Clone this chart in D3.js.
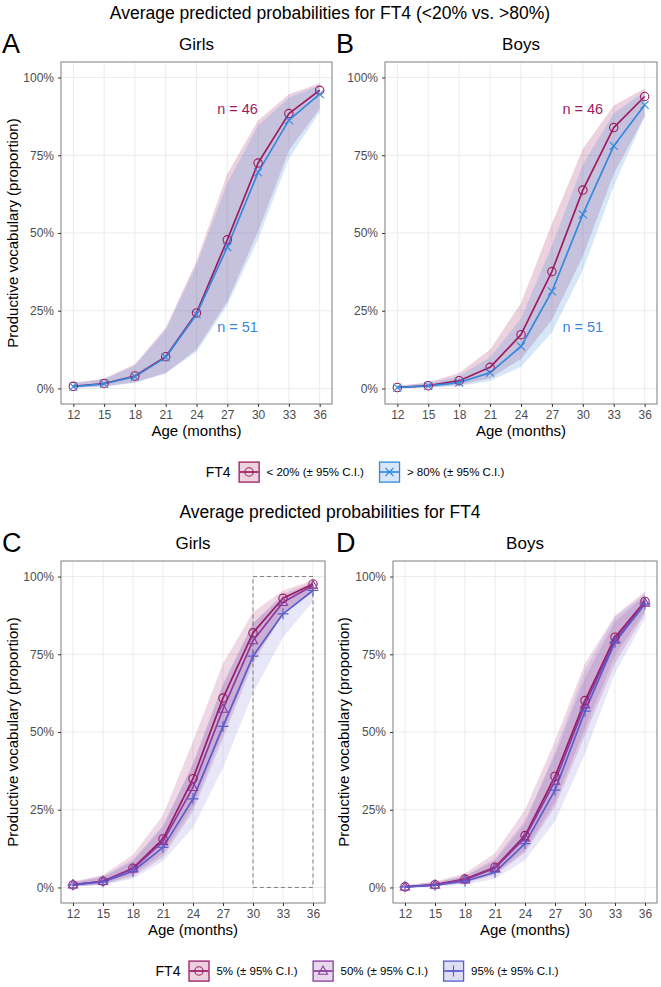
<!DOCTYPE html>
<html>
<head>
<meta charset="utf-8">
<script src="https://cdn.jsdelivr.net/npm/d3@7"></script>
<style>
  body { margin: 0; background: #fff; }
  svg { display: block; font-family: "Liberation Sans", Arial, Helvetica, sans-serif; }
</style>
</head>
<body>
<svg id="chart" width="661" height="987"></svg>
<script>
// ages on the x axis and y tick values
const ages = [12, 15, 18, 21, 24, 27, 30, 33, 36];
const yTicks = [0, 0.25, 0.5, 0.75, 1];

// A: girls, FT4 <20% vs >80%
const girlsLow   = [0.007, 0.016, 0.040, 0.102, 0.243, 0.478, 0.725, 0.884, 0.959];
const girlsLowLo = [0.002, 0.006, 0.020, 0.050, 0.125, 0.280, 0.505, 0.765, 0.900];
const girlsLowHi = [0.018, 0.032, 0.078, 0.195, 0.410, 0.690, 0.862, 0.946, 0.982];
const girlsHigh   = [0.006, 0.015, 0.038, 0.100, 0.238, 0.455, 0.695, 0.863, 0.947];
const girlsHighLo = [0.002, 0.006, 0.018, 0.048, 0.118, 0.268, 0.480, 0.740, 0.888];
const girlsHighHi = [0.016, 0.030, 0.074, 0.188, 0.398, 0.660, 0.845, 0.935, 0.976];

// B: boys, FT4 <20% vs >80%
const boysLow   = [0.003, 0.009, 0.025, 0.068, 0.173, 0.376, 0.638, 0.839, 0.939];
const boysLowLo = [0.001, 0.003, 0.011, 0.033, 0.095, 0.220, 0.425, 0.690, 0.875];
const boysLowHi = [0.009, 0.020, 0.050, 0.125, 0.275, 0.530, 0.770, 0.910, 0.965];
const boysHigh   = [0.003, 0.008, 0.019, 0.051, 0.135, 0.312, 0.560, 0.780, 0.912];
const boysHighLo = [0.001, 0.003, 0.008, 0.024, 0.070, 0.180, 0.380, 0.650, 0.875];
const boysHighHi = [0.008, 0.017, 0.040, 0.100, 0.225, 0.460, 0.720, 0.885, 0.955];

// C: girls, FT4 at 5% / 50% / 95%
const girlsP5   = [0.008, 0.020, 0.062, 0.156, 0.350, 0.609, 0.819, 0.930, 0.976];
const girlsP5Lo = [0.003, 0.009, 0.035, 0.098, 0.245, 0.480, 0.720, 0.880, 0.950];
const girlsP5Hi = [0.018, 0.040, 0.105, 0.232, 0.470, 0.720, 0.885, 0.955, 0.988];
const girlsP50   = [0.009, 0.020, 0.060, 0.148, 0.322, 0.574, 0.794, 0.917, 0.971];
const girlsP50Lo = [0.004, 0.012, 0.042, 0.110, 0.260, 0.500, 0.735, 0.885, 0.958];
const girlsP50Hi = [0.016, 0.033, 0.085, 0.195, 0.400, 0.655, 0.850, 0.945, 0.982];
const girlsP95   = [0.008, 0.018, 0.052, 0.129, 0.285, 0.518, 0.744, 0.880, 0.955];
const girlsP95Lo = [0.003, 0.008, 0.028, 0.085, 0.192, 0.385, 0.625, 0.805, 0.920];
const girlsP95Hi = [0.018, 0.036, 0.090, 0.200, 0.395, 0.650, 0.850, 0.935, 0.978];

// D: boys, FT4 at 5% / 50% / 95%
const boysP5   = [0.002, 0.009, 0.027, 0.065, 0.167, 0.357, 0.601, 0.805, 0.920];
const boysP5Lo = [0.001, 0.004, 0.014, 0.040, 0.112, 0.260, 0.490, 0.720, 0.880];
const boysP5Hi = [0.007, 0.019, 0.046, 0.110, 0.250, 0.472, 0.720, 0.875, 0.952];
const boysP50   = [0.002, 0.008, 0.025, 0.062, 0.160, 0.342, 0.588, 0.796, 0.915];
const boysP50Lo = [0.001, 0.004, 0.016, 0.043, 0.120, 0.275, 0.512, 0.745, 0.890];
const boysP50Hi = [0.006, 0.015, 0.038, 0.092, 0.215, 0.425, 0.675, 0.855, 0.940];
const boysP95   = [0.002, 0.007, 0.020, 0.049, 0.141, 0.313, 0.567, 0.789, 0.912];
const boysP95Lo = [0.001, 0.003, 0.009, 0.028, 0.088, 0.212, 0.430, 0.690, 0.865];
const boysP95Hi = [0.006, 0.016, 0.036, 0.086, 0.205, 0.440, 0.700, 0.870, 0.945];

const colLow = "#9e1b5f", colHigh = "#3489de";
const col5 = "#9c1a62", col50 = "#8a3b9d", col95 = "#5b5dcc";

const svg = d3.select("#chart");

function marker(g, shape, color) {
  if (shape === "circle") {
    g.append("circle").attr("r", 4.2).attr("fill", "none").attr("stroke", color).attr("stroke-width", 1.1);
  } else {
    let d;
    if (shape === "cross") d = "M-4,-4L4,4M-4,4L4,-4";
    if (shape === "plus") d = "M-5.5,0H5.5M0,-5.5V5.5";
    if (shape === "triangle") d = "M0,-5L4.6,3.2H-4.6Z";
    g.append("path").attr("d", d).attr("fill", "none").attr("stroke", color).attr("stroke-width", 1.1);
  }
}

function drawPanel(p) {
  const x = d3.scaleLinear().domain([10.8, 37.2]).range([p.x0, p.x1]);
  const y = d3.scaleLinear().domain([-0.05, 1.05]).range([p.y1, p.y0]);
  const g = svg.append("g");

  // grid
  g.selectAll(".gx").data(ages).enter().append("line")
    .attr("x1", d => x(d)).attr("x2", d => x(d))
    .attr("y1", p.y0).attr("y2", p.y1)
    .attr("stroke", "#ebebeb").attr("stroke-width", 1);
  g.selectAll(".gy").data(yTicks).enter().append("line")
    .attr("x1", p.x0).attr("x2", p.x1)
    .attr("y1", d => y(d)).attr("y2", d => y(d))
    .attr("stroke", "#ebebeb").attr("stroke-width", 1);

  const area = d3.area().x(d => x(d.age)).y0(d => y(d.lo)).y1(d => y(d.hi));
  const line = d3.line().x(d => x(d.age)).y(d => y(d.v));

  p.series.forEach(s => {
    const rows = ages.map((a, i) => ({age: a, lo: s.lo[i], hi: s.hi[i]}));
    g.append("path").attr("d", area(rows)).attr("fill", s.color).attr("fill-opacity", s.alpha || 0.2);
  });
  p.series.forEach(s => {
    const rows = ages.map((a, i) => ({age: a, v: s.est[i]}));
    g.append("path").attr("d", line(rows)).attr("fill", "none")
      .attr("stroke", s.color).attr("stroke-width", 1.7).attr("stroke-linejoin", "round");
  });
  p.series.forEach(s => {
    ages.forEach((a, i) => {
      const m = g.append("g").attr("transform", `translate(${x(a)},${y(s.est[i])})`);
      marker(m, s.shape, s.color);
    });
  });

  // dashed highlight box
  if (p.box) {
    g.append("rect")
      .attr("x", x(p.box[0])).attr("y", y(1))
      .attr("width", x(p.box[1]) - x(p.box[0])).attr("height", y(0) - y(1))
      .attr("fill", "none").attr("stroke", "#666").attr("stroke-width", 0.8)
      .attr("stroke-dasharray", "4,3");
  }

  (p.notes || []).forEach(n => {
    g.append("text").attr("x", x(n.age)).attr("y", y(n.v))
      .attr("text-anchor", "middle").attr("dominant-baseline", "central")
      .attr("fill", n.color).style("font-size", "14.5px").text(n.text);
  });

  // frame
  g.append("rect").attr("x", p.x0).attr("y", p.y0)
    .attr("width", p.x1 - p.x0).attr("height", p.y1 - p.y0)
    .attr("fill", "none").attr("stroke", "#7f7f7f").attr("stroke-width", 1);

  const xAxis = g.append("g").attr("transform", `translate(0,${p.y1})`)
    .call(d3.axisBottom(x).tickValues(ages).tickSize(3).tickPadding(3));
  const yAxis = g.append("g").attr("transform", `translate(${p.x0},0)`)
    .call(d3.axisLeft(y).tickValues(yTicks).tickSize(3).tickPadding(4).tickFormat(d => Math.round(d * 100) + "%"));
  [xAxis, yAxis].forEach(a => {
    a.select(".domain").remove();
    a.selectAll(".tick line").attr("stroke", "#333");
    a.selectAll("text").attr("fill", "#4d4d4d").style("font-size", "12px").style("font-family", null);
  });

  const cx = (p.x0 + p.x1) / 2;
  g.append("text").attr("x", cx).attr("y", p.y1 + 26)
    .attr("text-anchor", "middle").attr("dominant-baseline", "central")
    .style("font-size", "15px").text("Age (months)");
  if (p.yTitle) {
    const cy = (p.y0 + p.y1) / 2;
    g.append("text").attr("transform", `translate(${p.yTitleX},${cy}) rotate(-90)`)
      .attr("text-anchor", "middle").attr("dominant-baseline", "central")
      .style("font-size", "15px").text("Productive vocabulary (proportion)");
  }
  g.append("text").attr("x", cx).attr("y", p.y0 - 18)
    .attr("text-anchor", "middle").attr("dominant-baseline", "central")
    .style("font-size", "17px").text(p.strip);
  g.append("text").attr("x", p.letterX).attr("y", p.y0 - 18)
    .attr("dominant-baseline", "central")
    .style("font-size", "27px").text(p.letter);
}

function drawLegend(cx, cy, items) {
  const g = svg.append("g");
  let pos = 0;
  const t = g.append("text").attr("x", 0).attr("y", cy).attr("dominant-baseline", "central")
    .style("font-size", "14px").text("FT4");
  pos += t.node().getComputedTextLength() + 8;
  items.forEach((it, i) => {
    const k = g.append("g").attr("transform", `translate(${pos},${cy - 10.5})`);
    k.append("rect").attr("x", 0.6).attr("y", 0.6).attr("width", 20).attr("height", 20)
      .attr("fill", it.color).attr("fill-opacity", 0.2)
      .attr("stroke", it.color).attr("stroke-width", 1.3);
    k.append("line").attr("x1", 1).attr("x2", 20).attr("y1", 10.5).attr("y2", 10.5)
      .attr("stroke", it.color).attr("stroke-width", 1.7);
    marker(k.append("g").attr("transform", "translate(10.5,10.5)"), it.shape, it.color);
    pos += 28;
    const lt = g.append("text").attr("x", pos).attr("y", cy).attr("dominant-baseline", "central")
      .style("font-size", "11.5px").text(it.label);
    pos += lt.node().getComputedTextLength() + (i < items.length - 1 ? 15 : 0);
  });
  g.attr("transform", `translate(${cx - pos / 2},0)`);
}

// titles
svg.append("text").attr("x", 330).attr("y", 13).attr("text-anchor", "middle")
  .attr("dominant-baseline", "central")
  .style("font-size", "17.5px").text("Average predicted probabilities for FT4 (<20% vs. >80%)");
svg.append("text").attr("x", 330).attr("y", 512).attr("text-anchor", "middle")
  .attr("dominant-baseline", "central")
  .style("font-size", "17.5px").text("Average predicted probabilities for FT4");

const topRow = {y0: 62, y1: 404};
const botRow = {y0: 561, y1: 903};

drawPanel({...topRow, x0: 61, x1: 332, letter: "A", letterX: 2, strip: "Girls", yTitle: true, yTitleX: 12,
  series: [
    {est: girlsLow, lo: girlsLowLo, hi: girlsLowHi, color: colLow, shape: "circle"},
    {est: girlsHigh, lo: girlsHighLo, hi: girlsHighHi, color: colHigh, shape: "cross"}
  ],
  notes: [{age: 28, v: 0.90, text: "n = 46", color: colLow}, {age: 28, v: 0.197, text: "n = 51", color: colHigh}]
});
drawPanel({...topRow, x0: 385, x1: 657, letter: "B", letterX: 336, strip: "Boys", yTitle: false,
  series: [
    {est: boysLow, lo: boysLowLo, hi: boysLowHi, color: colLow, shape: "circle"},
    {est: boysHigh, lo: boysHighLo, hi: boysHighHi, color: colHigh, shape: "cross"}
  ],
  notes: [{age: 30, v: 0.90, text: "n = 46", color: colLow}, {age: 30, v: 0.197, text: "n = 51", color: colHigh}]
});
drawPanel({...botRow, x0: 61, x1: 325, letter: "C", letterX: 2, strip: "Girls", yTitle: true, yTitleX: 12, box: [30, 36],
  series: [
    {est: girlsP5, lo: girlsP5Lo, hi: girlsP5Hi, color: col5, shape: "circle", alpha: 0.17},
    {est: girlsP50, lo: girlsP50Lo, hi: girlsP50Hi, color: col50, shape: "triangle", alpha: 0.17},
    {est: girlsP95, lo: girlsP95Lo, hi: girlsP95Hi, color: col95, shape: "plus", alpha: 0.15}
  ]
});
drawPanel({...botRow, x0: 393, x1: 657, letter: "D", letterX: 336, strip: "Boys", yTitle: true, yTitleX: 343,
  series: [
    {est: boysP5, lo: boysP5Lo, hi: boysP5Hi, color: col5, shape: "circle", alpha: 0.17},
    {est: boysP50, lo: boysP50Lo, hi: boysP50Hi, color: col50, shape: "triangle", alpha: 0.17},
    {est: boysP95, lo: boysP95Lo, hi: boysP95Hi, color: col95, shape: "plus", alpha: 0.15}
  ]
});

drawLegend(355, 472, [
  {label: "< 20% (± 95% C.I.)", color: colLow, shape: "circle"},
  {label: "> 80% (± 95% C.I.)", color: colHigh, shape: "cross"}
]);
drawLegend(357, 971, [
  {label: "5% (± 95% C.I.)", color: col5, shape: "circle"},
  {label: "50% (± 95% C.I.)", color: col50, shape: "triangle"},
  {label: "95% (± 95% C.I.)", color: col95, shape: "plus"}
]);
</script>
</body>
</html>
